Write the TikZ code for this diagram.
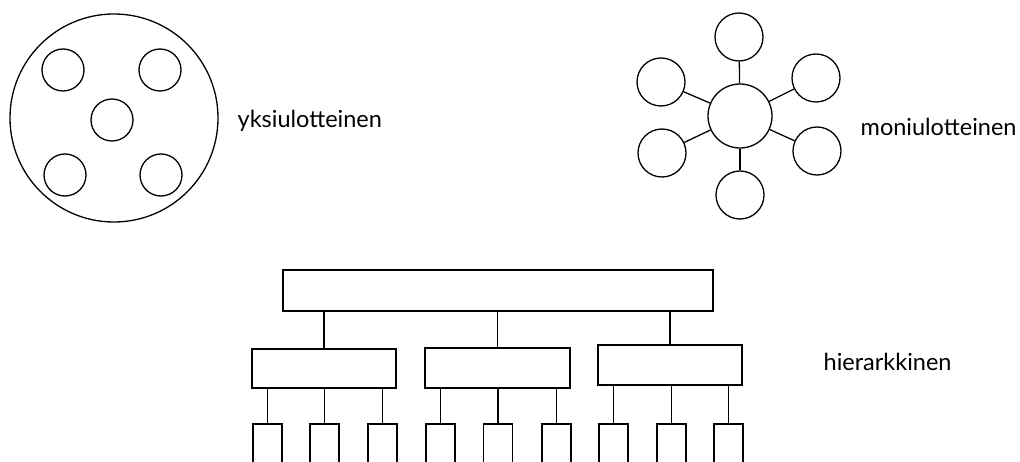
\documentclass[tikz,border=0pt]{standalone}
\usepackage{fontspec}
\setmainfont{Lato}
\begin{document}
\begin{tikzpicture}[x=1pt,y=-1pt,line width=1.3pt,
  ring/.style={draw,circle,inner sep=0pt},
  boxn/.style={draw,rectangle,inner sep=0pt},
  lbl/.style={anchor=west,inner sep=0pt,font=\fontsize{23.5}{26}\selectfont}]
\useasboundingbox (0,0) rectangle (1020,462);
\clip (0,0) rectangle (1020,462);
% one-dimensional
\node[ring,minimum size=208pt] (big) at (114,118) {};
\node[ring,minimum size=42pt] (c1) at (63,70) {};
\node[ring,minimum size=42pt] (c2) at (160,70) {};
\node[ring,minimum size=42pt] (c3) at (112,120) {};
\node[ring,minimum size=42pt] (c4) at (65,175) {};
\node[ring,minimum size=42pt] (c5) at (161,175) {};
\node[lbl] (t1) at (237,121) {yksiulotteinen};
% multi-dimensional
\node[ring,minimum size=64pt] (hub) at (740,116) {};
\node[ring,minimum size=48pt] (s1) at (739,37) {};
\node[ring,minimum size=48pt] (s2) at (661,82) {};
\node[ring,minimum size=48pt] (s3) at (816,78) {};
\node[ring,minimum size=48pt] (s4) at (662,153) {};
\node[ring,minimum size=48pt] (s5) at (817,151) {};
\node[ring,minimum size=48pt] (s6) at (740,195) {};
\foreach \s in {s1,s2,s3,s4,s5,s6} \draw (hub) -- (\s);
\node[lbl] (t2) at (860,127) {moniulotteinen};
% hierarchical
\node[boxn,minimum width=430pt,minimum height=41pt] (top) at (498,290.5) {};
\node[boxn,minimum width=144pt,minimum height=39pt] (m1) at (324,368.5) {};
\node[boxn,minimum width=145pt,minimum height=40pt] (m2) at (497.5,368) {};
\node[boxn,minimum width=144pt,minimum height=40pt] (m3) at (670,365) {};
\foreach \m in {m1,m2,m3} \draw (\m.north) -- (\m.north |- top.south);
\foreach \n/\x/\p in {l1/267.5/m1,l2/324.5/m1,l3/382.5/m1,l4/440.5/m2,l5/498/m2,l6/556.5/m2,l7/613.5/m3,l8/671.5/m3,l9/728.5/m3}{
  \node[boxn,minimum width=29pt,minimum height=50pt] (\n) at (\x,449) {};
  \draw (\n.north) -- (\n.north |- \p.south);
}
\node[lbl] (t3) at (823,362) {hierarkkinen};
\end{tikzpicture}
\end{document}
